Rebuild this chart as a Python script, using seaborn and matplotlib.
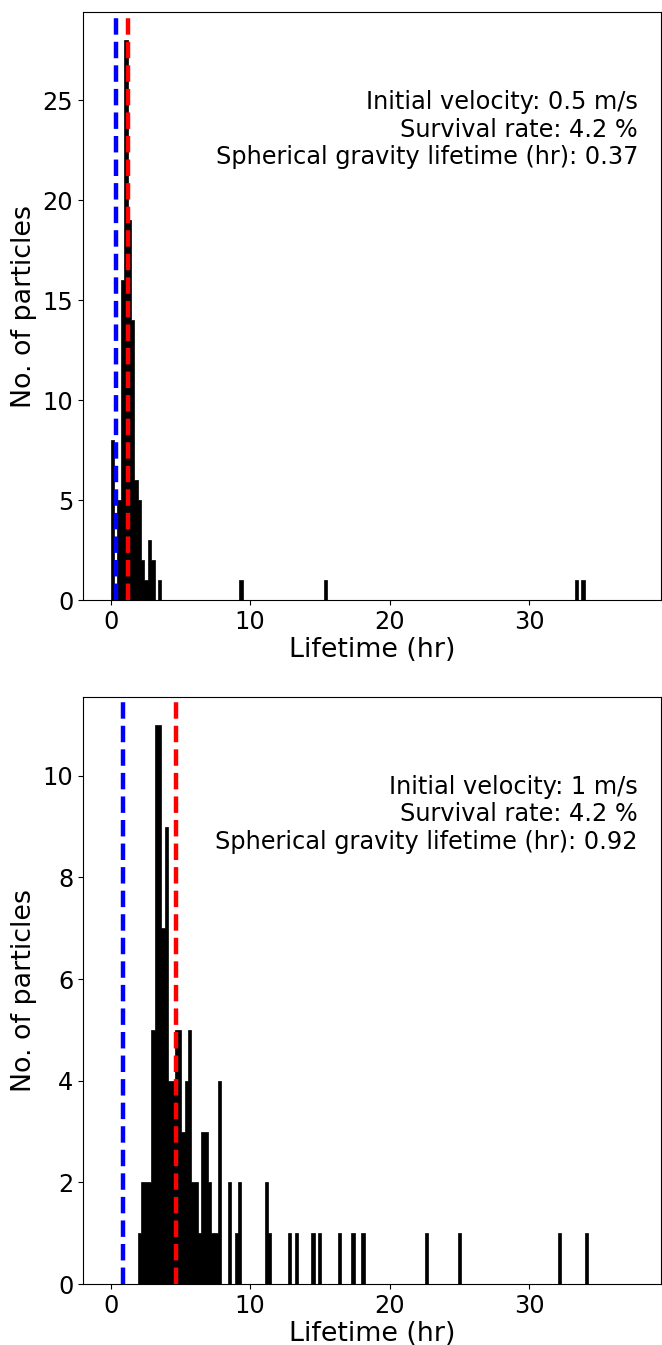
import numpy as np
import pandas as pd
import matplotlib
matplotlib.use("Agg")
import matplotlib.pyplot as plt
import seaborn as sns

# ---- data ----
# Top panel: initial velocity 0.5 m/s
top_lifetime = [0.12, 0.61, 0.85, 1.09, 1.33, 1.58, 1.82, 2.06, 2.31, 2.55,
                2.79, 3.03, 3.52, 9.34, 15.41, 33.37, 33.86]
top_count = [8, 5, 16, 28, 19, 14, 6, 5, 2, 1, 3, 2, 1, 1, 1, 1, 1]
top_bin_range = (0.0, 33.98)
top_nbins = 140
top_median = 1.25
top_sph = 0.37
top_text = ["Initial velocity: 0.5 m/s", "Survival rate: 4.2 %",
            "Spherical gravity lifetime (hr): 0.37"]

# Bottom panel: initial velocity 1 m/s
bot_lifetime = [2.07, 2.31, 2.55, 2.79, 3.03, 3.27, 3.51, 3.74, 3.98, 4.22,
                4.46, 4.70, 4.94, 5.18, 5.42, 5.66, 5.90, 6.14, 6.37, 6.61,
                6.85, 7.09, 7.33, 7.57, 7.81, 8.53, 9.01, 9.25, 11.16, 11.40,
                12.83, 13.31, 14.62, 15.10, 16.42, 17.37, 18.09, 22.63, 25.02,
                32.19, 34.10]
bot_count = [1, 2, 2, 2, 5, 11, 11, 7, 9, 4,
             4, 5, 5, 3, 4, 5, 2, 2, 1, 3,
             3, 2, 1, 1, 4, 2, 1, 2, 2, 1,
             1, 1, 1, 1, 1, 1, 1, 1, 1,
             1, 1]
bot_bin_range = (1.95, 34.23)
bot_nbins = 135
bot_median = 4.70
bot_sph = 0.92
bot_text = ["Initial velocity: 1 m/s", "Survival rate: 4.2 %",
            "Spherical gravity lifetime (hr): 0.92"]

xticks = [0, 10, 20, 30]
top_yticks = [0, 5, 10, 15, 20, 25]
bot_yticks = [0, 2, 4, 6, 8, 10]

# ---- figure ----
plt.rcParams['font.family'] = ['DejaVu Sans']
fig = plt.figure(figsize=(6.62, 13.45), dpi=100)
ax1 = fig.add_axes([83 / 662, 1 - 600 / 1345, 578 / 662, 588 / 1345])
ax2 = fig.add_axes([83 / 662, 1 - 1284 / 1345, 578 / 662, 587 / 1345])

TICK = 17.3
LAB = 19.4

panels = [
    (ax1, top_lifetime, top_count, top_bin_range, top_nbins, top_median, top_sph, top_text, top_yticks),
    (ax2, bot_lifetime, bot_count, bot_bin_range, bot_nbins, bot_median, bot_sph, bot_text, bot_yticks),
]

for ax, life, cnt, brange, nb, med, sph, txt, yt in panels:
    df = pd.DataFrame({"lifetime": life, "count": cnt})
    bw = (brange[1] - brange[0]) / nb
    sns.histplot(data=df, x="lifetime", weights="count", binwidth=bw,
                 binrange=brange, ax=ax, element="step", fill=True,
                 color="black", edgecolor="black", linewidth=0.5,
                 alpha=1.0, zorder=2)
    ax.axvline(sph, color="blue", linestyle="--", linewidth=3.2, zorder=3)
    ax.axvline(med, color="red", linestyle="--", linewidth=3.2, zorder=3)
    ax.set_xlim(-1.98, 39.45)
    ymax = max(cnt) * 1.05
    ax.set_ylim(0, ymax)
    ax.set_xticks(xticks)
    ax.set_yticks(yt)
    ax.tick_params(labelsize=TICK)
    ax.set_xlabel("Lifetime (hr)", fontsize=LAB, labelpad=2.5)
    ax.set_ylabel("No. of particles", fontsize=LAB)
    ax.text(0.96, 0.80, "\n".join(txt), transform=ax.transAxes,
            ha="right", va="center", fontsize=TICK, multialignment="right")

fig.savefig("out.png", dpi=100)
